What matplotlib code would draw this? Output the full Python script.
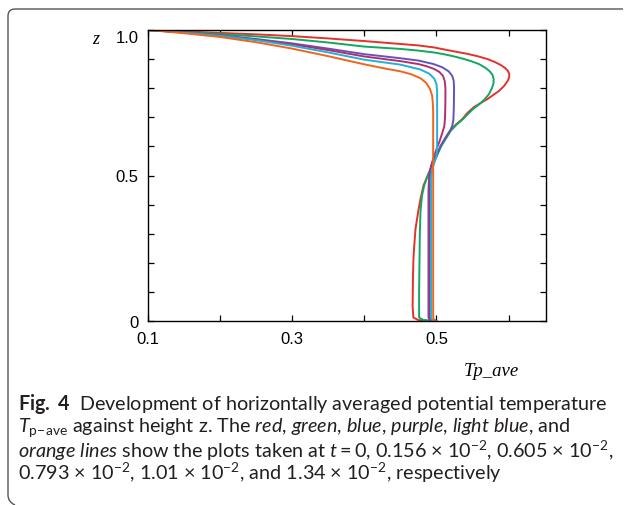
import numpy as np
import matplotlib
matplotlib.use("Agg")
import matplotlib.pyplot as plt
from matplotlib.path import Path
from matplotlib.patches import PathPatch
import matplotlib.transforms as mtransforms

# profile data: (T, z) pairs per curve, from bottom (z=0) to top (z=1)
red_T = [0.500, 0.475, 0.468, 0.467, 0.4675, 0.468, 0.469, 0.471, 0.475, 0.478, 0.482, 0.488,
         0.494, 0.500, 0.506, 0.519, 0.527, 0.536, 0.543, 0.552, 0.562, 0.571, 0.579, 0.587,
         0.594, 0.599, 0.601, 0.601, 0.599, 0.595, 0.589, 0.581, 0.571, 0.557, 0.543, 0.528,
         0.513, 0.497, 0.475, 0.450, 0.425, 0.400, 0.350, 0.300, 0.250, 0.200, 0.150, 0.100]
red_z = [0.000, 0.003, 0.012, 0.050, 0.150, 0.203, 0.250, 0.316, 0.380, 0.420, 0.465, 0.500,
         0.534, 0.565, 0.602, 0.654, 0.675, 0.694, 0.715, 0.735, 0.750, 0.763, 0.777, 0.791,
         0.808, 0.826, 0.838, 0.849, 0.860, 0.870, 0.880, 0.890, 0.900, 0.910, 0.918, 0.925,
         0.932, 0.940, 0.947, 0.952, 0.957, 0.962, 0.971, 0.979, 0.985, 0.990, 0.995, 1.000]

green_T = [0.500, 0.482, 0.476, 0.476, 0.477, 0.478, 0.480, 0.483, 0.488, 0.494, 0.500, 0.507,
           0.520, 0.528, 0.537, 0.544, 0.551, 0.560, 0.567, 0.573, 0.577, 0.579, 0.5795, 0.578,
           0.574, 0.568, 0.559, 0.548, 0.536, 0.523, 0.510, 0.496, 0.472, 0.450, 0.400, 0.350,
           0.300, 0.250, 0.200, 0.150, 0.100]
green_z = [0.000, 0.003, 0.012, 0.100, 0.300, 0.380, 0.430, 0.465, 0.500, 0.534, 0.565, 0.602,
           0.654, 0.675, 0.694, 0.712, 0.729, 0.746, 0.762, 0.780, 0.800, 0.815, 0.830, 0.845,
           0.858, 0.870, 0.883, 0.893, 0.902, 0.910, 0.917, 0.923, 0.930, 0.935, 0.943, 0.957,
           0.969, 0.978, 0.986, 0.993, 1.000]

blue_T = [0.500, 0.491, 0.489, 0.489, 0.489, 0.490, 0.493, 0.499, 0.506, 0.512, 0.519, 0.522,
          0.5235, 0.524, 0.5243, 0.5245, 0.524, 0.522, 0.517, 0.508, 0.496, 0.475, 0.450, 0.400,
          0.350, 0.300, 0.250, 0.200, 0.150, 0.100]
blue_z = [0.000, 0.003, 0.012, 0.300, 0.450, 0.500, 0.534, 0.565, 0.602, 0.628, 0.654, 0.671,
          0.690, 0.720, 0.760, 0.800, 0.825, 0.842, 0.858, 0.872, 0.883, 0.895, 0.903, 0.917,
          0.936, 0.954, 0.969, 0.982, 0.992, 1.000]

purple_T = [0.500, 0.492, 0.4905, 0.4905, 0.4905, 0.4915, 0.494, 0.497, 0.500, 0.504, 0.508,
            0.511, 0.512, 0.5125, 0.5125, 0.5115, 0.509, 0.504, 0.497, 0.487, 0.475, 0.450,
            0.400, 0.350, 0.300, 0.250, 0.200, 0.150, 0.100]
purple_z = [0.000, 0.003, 0.012, 0.300, 0.480, 0.520, 0.545, 0.567, 0.590, 0.615, 0.645,
            0.670, 0.700, 0.760, 0.800, 0.825, 0.843, 0.856, 0.866, 0.875, 0.883, 0.893,
            0.909, 0.931, 0.951, 0.967, 0.981, 0.992, 1.000]

lightblue_T = [0.500, 0.494, 0.4925, 0.4925, 0.4925, 0.494, 0.497, 0.500, 0.501, 0.501, 0.501,
               0.500, 0.497, 0.490, 0.478, 0.450, 0.400, 0.350, 0.300, 0.250, 0.200, 0.150, 0.100]
lightblue_z = [0.000, 0.003, 0.012, 0.300, 0.490, 0.522, 0.543, 0.565, 0.600, 0.700, 0.790,
               0.815, 0.833, 0.850, 0.864, 0.881, 0.898, 0.923, 0.946, 0.965, 0.980, 0.991, 1.000]

orange_T = [0.500, 0.497, 0.4955, 0.4955, 0.4955, 0.4955, 0.495, 0.494, 0.491, 0.486, 0.478,
            0.465, 0.450, 0.430, 0.400, 0.350, 0.300, 0.250, 0.200, 0.150, 0.100]
orange_z = [0.000, 0.003, 0.012, 0.300, 0.500, 0.720, 0.750, 0.775, 0.798, 0.818, 0.834,
            0.848, 0.858, 0.867, 0.882, 0.910, 0.936, 0.958, 0.976, 0.989, 1.000]

x_ticks = [0.1, 0.2, 0.3, 0.4, 0.5, 0.6]
x_labels = ["0.1", "", "0.3", "", "0.5", ""]
y_ticks = [0.0, 0.1, 0.2, 0.3, 0.4, 0.5, 0.6, 0.7, 0.8, 0.9, 1.0]
y_labels = ["0", "", "", "", "", "0.5", "", "", "", "", "1.0"]

curves = [
    (red_T, red_z, "#e6302a"),
    (green_T, green_z, "#10a860"),
    (blue_T, blue_z, "#6652b8"),
    (purple_T, purple_z, "#b22f6e"),
    (lightblue_T, lightblue_z, "#20b0d8"),
    (orange_T, orange_z, "#f0641e"),
]

W, H = 624, 506
fig = plt.figure(figsize=(W / 100, H / 100), dpi=100)

def fx(x):
    return x / W

def fy(y):
    return 1 - y / H

ax = fig.add_axes([fx(148), fy(322), fx(546) - fx(148), fy(31) - fy(322)])
for T, z, c in curves:
    ax.plot(T, z, color=c, lw=1.4, solid_joinstyle="round")

ax.set_xlim(0.1, 0.652)
ax.set_ylim(0, 1)
ax.set_xticks(x_ticks)
ax.set_xticklabels(x_labels)
ax.set_yticks(y_ticks)
ax.set_yticklabels(y_labels)
ax.tick_params(direction="in", length=4, width=0.9, top=True, right=True,
               labelsize=12, pad=7)
for lab in ax.get_xticklabels() + ax.get_yticklabels():
    lab.set_fontfamily("Liberation Sans")
for s in ax.spines.values():
    s.set_linewidth(1.0)

# the top y label sits a bit lower in the original
off = mtransforms.ScaledTranslation(0, -6 / 100, fig.dpi_scale_trans)
for lab in ax.get_yticklabels():
    if lab.get_text() == "1.0":
        lab.set_transform(lab.get_transform() + off)

fig.text(fx(96), fy(40), "z", fontsize=13, family="Liberation Serif", style="italic",
         ha="center", va="center")
fig.text(fx(491), fy(372), "Tp_ave", fontsize=13.5, family="Liberation Serif",
         style="italic", ha="center", va="center")

# frame around figure (top and left only, rounded corners)
r = 7
verts = [(623, 10), (8 + r, 10), (8, 10), (8, 10 + r), (8, 503 - r), (8, 503), (8 + r, 506)]
codes = [Path.MOVETO, Path.LINETO, Path.CURVE3, Path.CURVE3, Path.LINETO, Path.CURVE3, Path.CURVE3]
verts = [(fx(a), fy(b)) for a, b in verts]
fig.add_artist(PathPatch(Path(verts, codes), transform=fig.transFigure, fill=False,
                         edgecolor="#555555", lw=1.0))

# caption
plt.rcParams["mathtext.fontset"] = "custom"
plt.rcParams["mathtext.rm"] = "Lato"
plt.rcParams["mathtext.it"] = "Lato:italic"
plt.rcParams["mathtext.bf"] = "Lato:bold"
cap = dict(fontsize=14.2, family="Lato", color="#231f20", ha="left", va="baseline")
x0 = fx(18)
fig.text(x0, fy(410), r"$\mathbf{Fig.\ 4}$  Development of horizontally averaged potential temperature", **cap)
fig.text(x0, fy(432), r"$\mathit{T}_{\mathrm{p\!-\!ave}}$ against height z. The $\mathit{red}$, $\mathit{green}$, "
         r"$\mathit{blue}$, $\mathit{purple}$, $\mathit{light\ blue}$, and", **cap)
fig.text(x0, fy(458), r"$\mathit{orange\ lines}$ show the plots taken at $\mathit{t}=0$, 0.156 $\times$ 10$^{-2}$, "
         r"0.605 $\times$ 10$^{-2}$,", **cap)
fig.text(x0, fy(480), r"0.793 $\times$ 10$^{-2}$, 1.01 $\times$ 10$^{-2}$, and 1.34 $\times$ 10$^{-2}$, respectively", **cap)

fig.savefig("out.png", dpi=100)
